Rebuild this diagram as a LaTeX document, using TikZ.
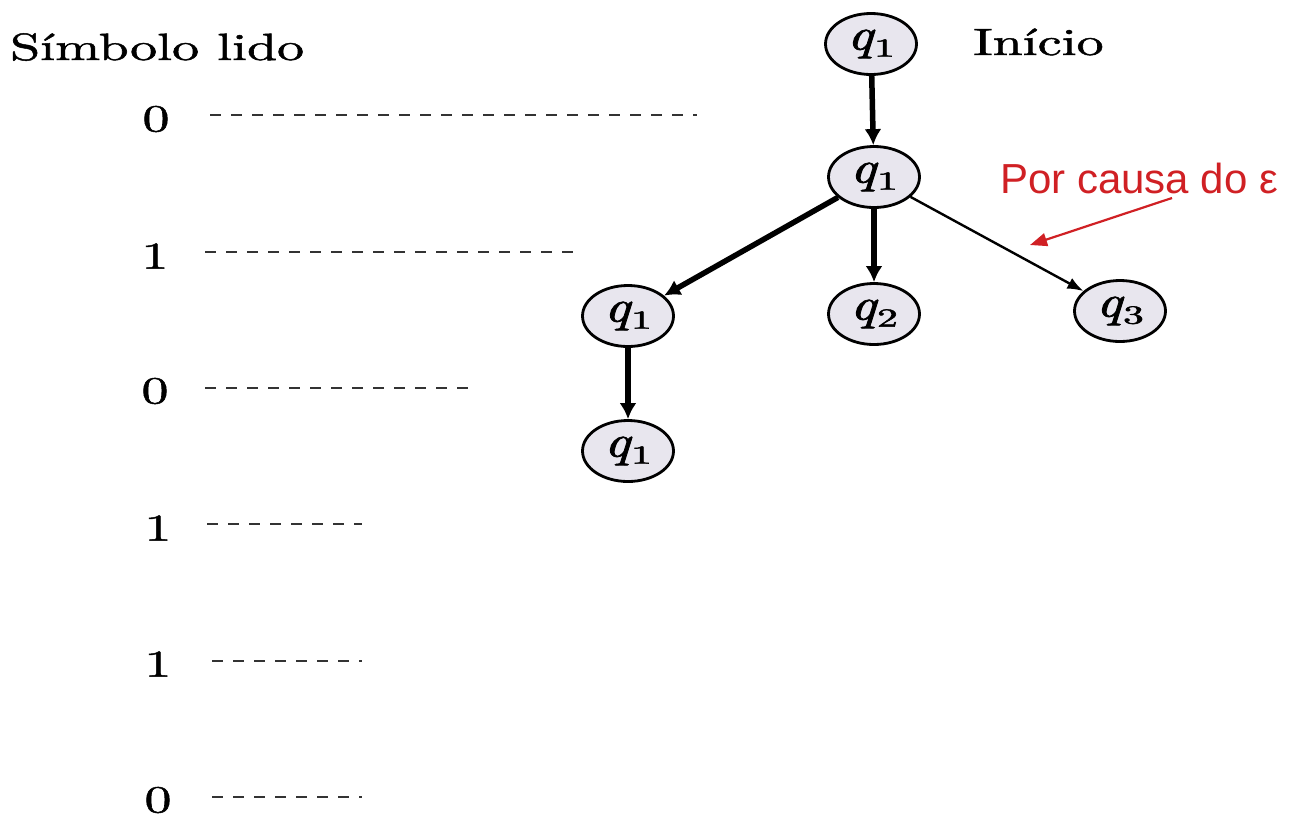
\documentclass[tikz,border=0pt]{standalone}
\usepackage{graphicx}
\usepackage{fontspec}
% use the 10pt design of Latin Modern at every size
\setmainfont{lmroman10-regular.otf}[
  BoldFont=lmroman10-bold.otf,
  ItalicFont=lmroman10-italic.otf,
  BoldItalicFont=lmroman10-bolditalic.otf]
% slightly heavier roman for the printed labels
\newfontfamily\printfont{lmroman10-regular.otf}[FakeBold=1.2]
\newfontfamily\statefont{lmroman10-italic.otf}[FakeBold=1.6]
\newfontfamily\subfont{lmroman10-regular.otf}[FakeBold=1.6]
\newfontfamily\annotfont{Liberation Sans}
\usetikzlibrary{arrows.meta,shapes.geometric}
\definecolor{notered}{RGB}{208,32,36}
\definecolor{statefill}{RGB}{232,230,238}
% the printed figure is set wide: text is stretched horizontally
\newcommand{\widetext}[1]{\scalebox{1.42}[1]{#1}}
\newcommand{\stlabel}[1]{\scalebox{1.25}[1]{\statefont\fontsize{45}{46}\selectfont q}\kern1pt\raisebox{-7pt}{\scalebox{1.6}[1]{\subfont\fontsize{26}{27}\selectfont #1}}}
\tikzset{
  state/.style={ellipse, draw, line width=2.8pt, fill=statefill,
    minimum width=91pt, minimum height=61pt, inner sep=0pt},
  bigtext/.style={font=\printfont\fontsize{38}{42}\selectfont, inner sep=0pt},
  mainedge/.style={line width=5.5pt, -{Latex[length=16pt,width=17pt]}},
  thinedge/.style={line width=2.4pt, -{Latex[length=16pt,width=12pt]}},
  leader/.style={line width=2.4pt, black!80, dash pattern=on 11pt off 10pt},
  notearrow/.style={notered, line width=2.2pt, -{Triangle[length=17pt,width=13pt]}},
}
\begin{document}
\begin{tikzpicture}[x=1pt, y=-1pt]
\useasboundingbox (0,0) rectangle (1293,823);

% heading texts
\node[bigtext, anchor=base west] (head) at (10,60) {\widetext{Símbolo lido}};
\node[bigtext, anchor=base west] (start) at (973,55) {\widetext{Início}};

% input symbols read
\node[bigtext] (s1) at (156,119) {\widetext{0}};
\node[bigtext] (s2) at (155,256) {\widetext{1}};
\node[bigtext] (s3) at (155,391) {\widetext{0}};
\node[bigtext] (s4) at (158,528) {\widetext{1}};
\node[bigtext] (s5) at (158,664) {\widetext{1}};
\node[bigtext] (s6) at (158,800) {\widetext{0}};

% dashed leaders, one per step
\coordinate (l1a) at (210,115); \coordinate (l1b) at (697,115);
\coordinate (l2a) at (205,252); \coordinate (l2b) at (582,252);
\coordinate (l3a) at (205,388); \coordinate (l3b) at (475,388);
\coordinate (l4a) at (207,524); \coordinate (l4b) at (362,524);
\coordinate (l5a) at (212,661); \coordinate (l5b) at (362,661);
\coordinate (l6a) at (212,797); \coordinate (l6b) at (362,797);
\foreach \i in {1,...,6} \draw[leader] (l\i a) -- (l\i b);

% computation tree
\node[state] (r)  at (871,44)  {\stlabel{1}};
\node[state] (a)  at (874,177) {\stlabel{1}};
\node[state] (b1) at (628,316) {\stlabel{1}};
\node[state] (b2) at (874,314) {\stlabel{2}};
\node[state] (b3) at (1120,311) {\stlabel{3}};
\node[state] (c1) at (628,451) {\stlabel{1}};

\draw[mainedge] (r) -- (a);
\draw[mainedge] (a) -- (b1);
\draw[mainedge] (a) -- (b2);
\draw[thinedge] (a) -- (b3);
\draw[mainedge] (b1) -- (c1);

% annotation
\node[anchor=base west, inner sep=0pt, text=notered,
      font=\annotfont\fontsize{42}{46}\selectfont] (note) at (1000,193) {Por causa do ε};
\coordinate (nfrom) at (1172,198);
\coordinate (nto) at (1030,245);
\draw[notearrow] (nfrom) -- (nto);
\end{tikzpicture}
\end{document}
